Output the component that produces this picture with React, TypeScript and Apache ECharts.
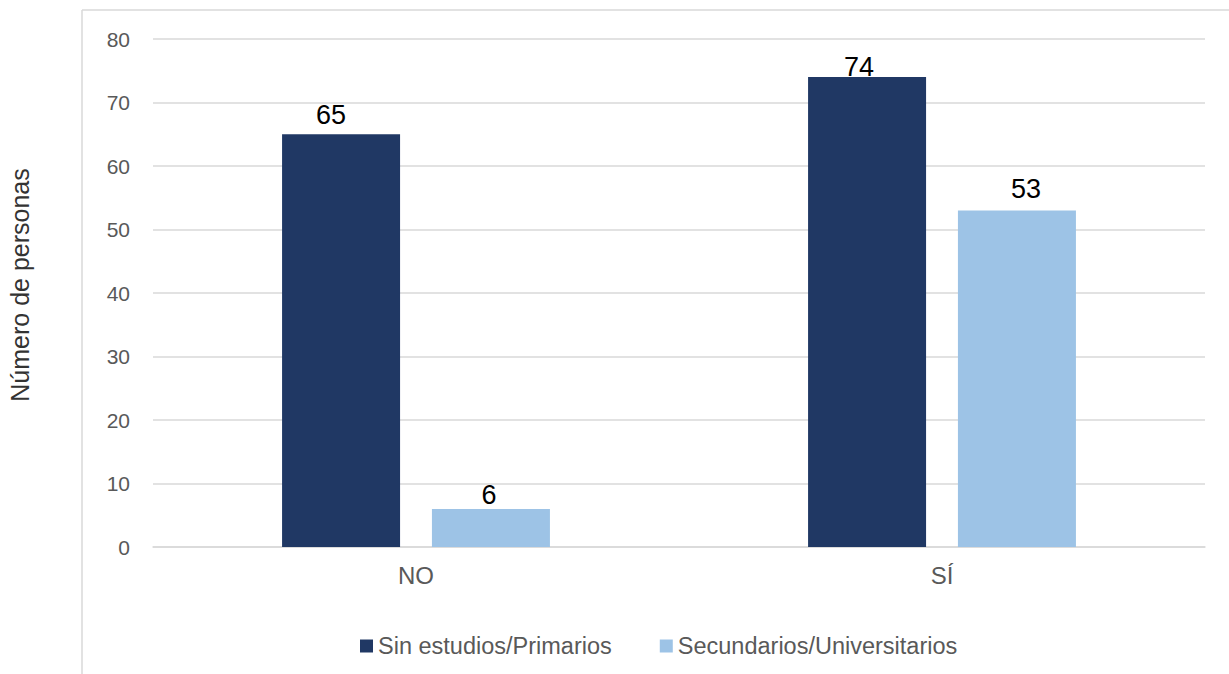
import React, { useEffect, useRef } from "react";
import * as echarts from "echarts";

const categories = ["NO", "SÍ"];
const seriesNames = ["Sin estudios/Primarios", "Secundarios/Universitarios"];
const sinEstudios = [65, 74];
const secundarios = [6, 53];
const yTicks = { min: 0, max: 80, interval: 10 };
const axisTitle = "Número de personas";

// label nudges (px) as placed in the original chart
const sinEstudiosLabelOffsets = [[-10, 0], [-8, 9]];
const secundariosLabelOffsets = [[-2, 6], [9, -2]];

const FONT = "'Liberation Sans', Arial, sans-serif";

function withOffsets(values: number[], offsets: number[][]) {
  return values.map((v, i) => ({ value: v, label: { offset: offsets[i] } }));
}

export default function App() {
  const ref = useRef<HTMLDivElement>(null);
  useEffect(() => {
    if (!ref.current) return;
    const chart = echarts.init(ref.current, undefined, { renderer: "svg" });
    chart.setOption({
      animation: false,
      backgroundColor: "#ffffff",
      textStyle: { fontFamily: FONT },
      graphic: [
        { type: "line", shape: { x1: 82, y1: 10, x2: 1229, y2: 10 }, style: { stroke: "#d9d9d9", lineWidth: 1.5 } },
        { type: "line", shape: { x1: 82, y1: 10, x2: 82, y2: 674 }, style: { stroke: "#d9d9d9", lineWidth: 1.5 } },
        {
          type: "text",
          x: 20,
          y: 285,
          rotation: Math.PI / 2,
          style: {
            text: axisTitle,
            fontSize: 25,
            fontFamily: FONT,
            fill: "#333333",
            align: "center",
            verticalAlign: "middle",
          },
        },
      ],
      grid: { left: 153, right: 24, top: 39, bottom: 127, containLabel: false },
      legend: {
        top: 629,
        left: 355,
        itemWidth: 13,
        itemHeight: 13,
        itemGap: 48,
        icon: "rect",
        textStyle: { fontSize: 23.5, color: "#595959", fontFamily: FONT },
        data: seriesNames,
      },
      xAxis: {
        type: "category",
        data: categories,
        axisLine: { lineStyle: { color: "#d9d9d9", width: 1.5 } },
        axisTick: { show: false },
        axisLabel: { fontSize: 24, color: "#595959", margin: 16 },
      },
      yAxis: {
        type: "value",
        min: yTicks.min,
        max: yTicks.max,
        interval: yTicks.interval,
        axisLine: { show: false },
        axisTick: { show: false },
        splitLine: { lineStyle: { color: "#d9d9d9", width: 1.5 } },
        axisLabel: { fontSize: 21, color: "#595959", margin: 23 },
      },
      series: [
        {
          name: seriesNames[0],
          type: "bar",
          data: withOffsets(sinEstudios, sinEstudiosLabelOffsets),
          barWidth: 118,
          barGap: "27%",
          itemStyle: { color: "#203864" },
          label: { show: true, position: "top", distance: 6, fontSize: 27, color: "#000000" },
        },
        {
          name: seriesNames[1],
          type: "bar",
          data: withOffsets(secundarios, secundariosLabelOffsets),
          barWidth: 118,
          itemStyle: { color: "#9dc3e6" },
          label: { show: true, position: "top", distance: 6, fontSize: 27, color: "#000000" },
        },
      ],
    });
    return () => chart.dispose();
  }, []);
  return (
    <div
      ref={ref}
      style={{ position: "fixed", left: 0, top: 0, width: 1229, height: 674 }}
    />
  );
}
